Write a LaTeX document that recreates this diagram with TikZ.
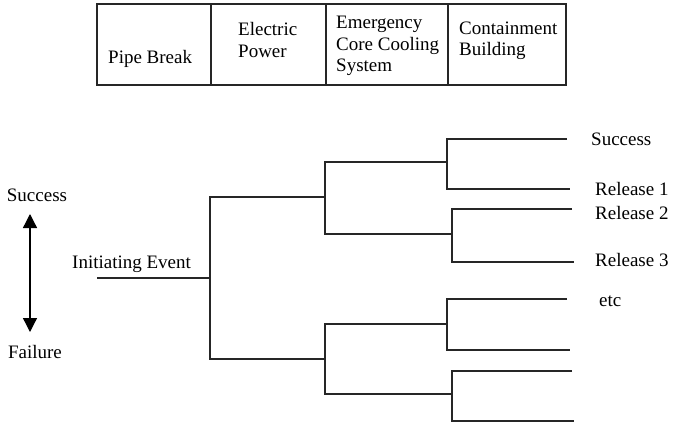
\documentclass[tikz,border=0pt]{standalone}
\usepackage{fontspec}
\setmainfont{Liberation Serif}
\usetikzlibrary{arrows.meta}
\begin{document}
\begin{tikzpicture}[x=1pt,y=-1pt,
  every node/.style={inner sep=0pt,font=\fontsize{19}{21.5}\selectfont},
  txt/.style={anchor=west,align=left},
  ln/.style={line width=1.3pt,black!85}]
\useasboundingbox (0,0) rectangle (676,423);
% table
\draw[ln] (97,4) rectangle (566,85);
\draw[ln] (211,4) -- (211,85);
\draw[ln] (326,4) -- (326,85);
\draw[ln] (448,4) -- (448,85);
\node[txt] (h1) at (108,59) {Pipe Break};
\node[txt] (h2) at (238,40) {Electric\\Power};
\node[txt] (h3) at (336,46) {Emergency\\Core Cooling\\System};
\node[txt] (h4) at (459,41) {Containment\\Building};
% left
\node (succ) at (37,195) {Success};
\node (fail) at (35,352) {Failure};
\coordinate (up) at (30,214);
\coordinate (dn) at (30,332);
\draw[line width=1.3pt,{Triangle[length=14pt,width=14pt]}-{Triangle[length=14pt,width=14pt]}] (up) -- (dn);
\node[txt] (ie) at (72,264) {Initiating Event};
% tree coordinates
\coordinate (ie0) at (97,278);
\coordinate (r) at (210,278);
\coordinate (u) at (325,197);
\coordinate (l) at (325,359);
\coordinate (a) at (447,162);
\coordinate (b) at (452,234);
\coordinate (c) at (447,324);
\coordinate (d) at (452,394);
\coordinate (a1) at (567,139);
\coordinate (a2) at (570,189);
\coordinate (b1) at (572,209);
\coordinate (b2) at (574,262);
\coordinate (c1) at (567,299);
\coordinate (c2) at (570,350);
\coordinate (d1) at (572,371);
\coordinate (d2) at (574,421);
\draw[ln] (ie0) -- (r);
\draw[ln] (u) -| (r) |- (l);
\draw[ln] (a) -| (u) |- (b);
\draw[ln] (c) -| (l) |- (d);
\draw[ln] (a1) -| (a) |- (a2);
\draw[ln] (b1) -| (b) |- (b2);
\draw[ln] (c1) -| (c) |- (c2);
\draw[ln] (d1) -| (d) |- (d2);
% outcome labels
\node[txt] (o1) at (591,139) {Success};
\node[txt] (o2) at (595,189) {Release 1};
\node[txt] (o3) at (595,213) {Release 2};
\node[txt] (o4) at (595,260) {Release 3};
\node[txt] (o5) at (599,301) {etc};
\end{tikzpicture}
\end{document}
